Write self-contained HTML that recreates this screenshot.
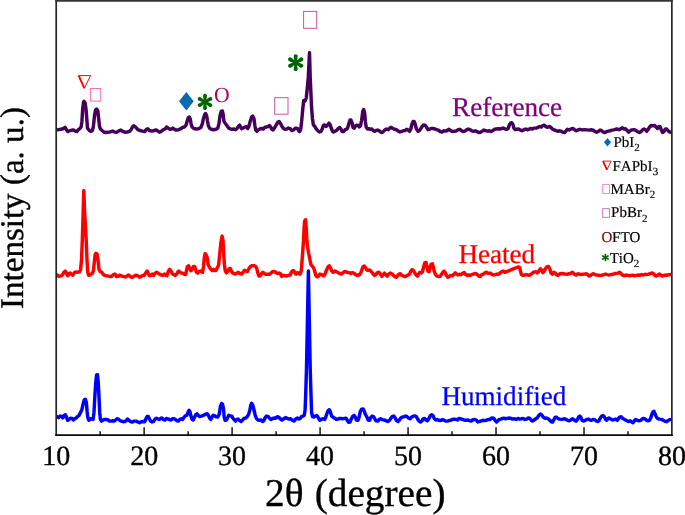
<!DOCTYPE html>
<html><head><meta charset="utf-8"><title>XRD</title>
<style>
html,body{margin:0;padding:0;background:#fff;}
body{width:685px;height:515px;overflow:hidden;font-family:"Liberation Serif",serif;}
svg{display:block;font-family:"Liberation Serif",serif;will-change:transform;}
text{text-rendering:geometricPrecision;font-kerning:none;}
</style></head><body>
<svg width="685" height="515" viewBox="0 0 685 515">
<rect width="685" height="515" fill="#fff"/>
<g clip-path="url(#cp)">
<path d="M56.0,130.1 L57.2,129.9 L60.7,129.3 L63.2,128.7 L65.1,127.3 L66.5,129.9 L67.7,131.6 L69.4,130.8 L71.8,130.2 L73.5,129.9 L75.3,131.1 L76.8,131.6 L78.2,129.9 L79.9,128.5 L81.1,127.0 L81.9,121.7 L82.6,110.0 L83.5,102.5 L84.0,101.3 L85.2,103.0 L86.1,110.0 L87.0,121.7 L87.5,128.1 L89.3,130.5 L91.0,131.4 L92.4,130.5 L93.4,126.4 L94.5,115.9 L95.5,110.0 L96.6,109.1 L97.8,110.6 L98.6,118.2 L99.5,126.4 L100.4,129.0 L102.1,130.5 L103.9,132.0 L105.6,132.5 L108.0,132.2 L110.3,131.9 L112.6,131.1 L114.4,132.0 L116.7,132.2 L119.1,130.8 L120.8,130.1 L122.6,131.3 L124.9,132.2 L127.2,132.0 L129.6,131.3 L131.3,129.3 L132.5,127.0 L133.7,125.8 L134.8,126.4 L136.0,127.5 L137.8,129.7 L140.1,130.5 L142.4,131.1 L144.8,131.6 L146.5,129.3 L147.7,128.7 L149.4,130.5 L151.8,131.1 L153.5,130.8 L155.8,129.9 L157.6,130.8 L159.4,132.2 L161.1,131.6 L162.9,129.9 L165.2,129.0 L166.6,127.0 L167.8,127.8 L169.3,129.0 L171.0,129.3 L172.8,128.1 L174.5,129.3 L176.3,130.1 L178.6,129.7 L181.0,128.7 L182.7,127.3 L184.5,127.0 L186.0,125.2 L187.2,121.1 L188.3,117.6 L189.5,117.0 L190.3,119.4 L191.1,124.0 L192.1,127.0 L193.8,128.5 L196.2,129.0 L198.5,128.7 L200.8,127.5 L202.3,124.0 L203.5,118.2 L204.7,114.5 L205.6,113.5 L206.7,115.9 L207.5,121.1 L208.4,125.8 L209.6,128.1 L211.3,129.3 L213.7,129.7 L216.0,129.3 L217.8,128.1 L218.9,124.0 L220.1,115.3 L221.3,111.2 L222.4,111.0 L223.2,114.7 L223.9,121.1 L225.3,123.5 L227.1,125.8 L228.8,128.1 L230.6,129.0 L232.3,129.3 L234.1,129.0 L235.6,129.7 L237.0,128.5 L238.4,126.4 L239.6,125.0 L240.5,127.0 L241.7,128.7 L243.4,127.8 L245.2,127.0 L246.6,126.6 L247.8,128.5 L248.9,126.4 L250.1,121.7 L251.6,117.0 L252.8,116.1 L254.0,118.8 L254.8,125.2 L255.7,129.9 L256.9,131.3 L258.3,129.7 L259.8,129.0 L261.6,128.5 L263.3,129.0 L264.8,127.3 L266.4,127.0 L268.0,126.6 L269.5,125.5 L270.7,127.0 L271.8,129.3 L273.0,129.9 L274.4,128.1 L276.1,125.2 L277.7,122.3 L279.1,121.5 L280.5,123.5 L282.0,126.4 L283.5,128.5 L285.1,129.3 L286.7,129.0 L288.4,128.1 L290.2,128.7 L291.9,130.5 L293.7,129.9 L295.4,128.1 L296.0,128.1 L297.4,128.5 L298.6,130.8 L299.7,131.6 L300.7,129.3 L301.6,121.7 L302.8,108.9 L303.7,100.5 L305.1,100.9 L306.3,97.8 L307.2,89.0 L308.3,77.3 L309.5,52.6 L310.2,77.3 L310.9,92.5 L311.5,106.5 L312.4,118.2 L313.3,124.6 L314.7,126.4 L316.1,128.7 L317.6,130.5 L319.4,132.0 L321.1,131.3 L322.3,128.7 L323.4,125.2 L324.6,125.0 L326.1,126.4 L327.5,125.2 L328.9,123.1 L330.1,124.6 L331.3,128.1 L332.4,131.1 L333.6,132.0 L335.1,131.3 L336.9,130.1 L338.3,128.5 L339.8,127.5 L341.0,129.0 L342.1,131.6 L343.6,131.6 L345.1,129.7 L346.4,129.3 L347.6,128.1 L348.8,124.0 L350.0,120.0 L350.9,120.0 L352.1,122.9 L353.0,127.5 L354.2,128.1 L355.3,126.2 L356.7,125.2 L358.1,125.5 L359.3,127.0 L360.5,125.8 L361.6,120.5 L362.8,111.2 L363.7,109.5 L364.7,113.5 L365.4,121.7 L366.3,127.5 L367.5,129.0 L369.0,128.7 L370.5,129.3 L371.9,129.0 L373.3,130.8 L374.8,131.3 L376.0,130.5 L377.8,130.1 L379.5,131.1 L381.3,132.5 L383.0,132.0 L384.8,129.9 L386.5,129.0 L388.3,129.7 L389.8,128.1 L391.2,127.3 L392.9,128.5 L394.7,129.3 L396.4,129.7 L398.2,131.1 L399.9,132.0 L401.7,131.3 L403.4,130.8 L405.2,130.5 L406.6,129.3 L408.1,129.9 L409.6,131.3 L410.8,129.0 L412.0,124.0 L413.1,121.5 L414.1,121.5 L415.1,124.0 L416.3,128.5 L417.8,131.3 L419.2,130.8 L420.6,129.0 L422.1,126.4 L423.6,125.0 L425.1,125.2 L426.4,127.0 L428.0,129.7 L429.5,129.3 L431.1,128.5 L433.0,128.5 L435.0,129.0 L436.7,129.7 L438.5,130.1 L440.2,131.6 L442.0,132.0 L443.7,130.8 L445.5,131.1 L447.2,130.5 L449.0,129.3 L450.7,130.5 L452.5,131.6 L454.2,131.3 L456.0,131.1 L457.8,129.9 L459.5,129.3 L461.3,130.5 L463.0,131.6 L464.8,131.1 L466.5,129.9 L468.3,129.0 L470.0,129.7 L471.8,130.8 L473.5,131.3 L475.3,130.8 L477.0,131.6 L478.8,132.5 L480.5,132.2 L482.3,131.1 L484.0,130.1 L485.8,130.8 L487.5,131.1 L489.3,130.8 L491.0,131.6 L492.8,130.5 L494.5,129.3 L496.3,129.0 L498.0,128.7 L499.8,129.0 L501.6,128.5 L503.3,128.1 L505.1,129.0 L506.8,129.3 L508.3,128.1 L509.5,124.6 L510.7,122.9 L511.8,122.7 L513.0,124.6 L513.9,128.1 L515.3,129.7 L516.7,129.3 L518.5,129.0 L520.2,129.9 L522.0,130.8 L523.7,129.9 L525.5,129.0 L527.2,129.7 L529.0,129.3 L530.7,128.5 L532.5,129.0 L534.2,128.1 L536.0,128.1 L537.8,127.5 L539.5,126.6 L541.3,127.0 L542.4,125.8 L544.2,125.2 L545.9,126.6 L547.7,127.3 L549.4,126.4 L551.0,127.5 L552.4,129.0 L554.1,129.9 L555.9,130.5 L557.6,131.3 L559.4,130.8 L561.1,131.1 L562.9,132.2 L564.6,132.5 L566.1,130.8 L567.5,129.3 L569.3,129.9 L571.0,129.0 L573.1,128.5 L574.8,129.9 L576.3,130.8 L578.0,129.9 L579.8,129.3 L582.1,129.9 L584.5,129.7 L586.8,129.9 L589.1,130.1 L591.5,129.7 L593.2,130.1 L595.0,131.6 L596.7,132.2 L598.5,131.3 L600.0,130.1 L601.4,130.5 L603.1,132.0 L604.9,132.5 L606.7,131.6 L608.4,131.1 L610.2,130.8 L611.9,130.1 L613.7,129.9 L615.4,129.4 L616.7,129.0 L619.0,129.7 L620.8,128.7 L622.3,127.8 L623.7,129.0 L625.4,128.7 L627.2,130.5 L628.6,132.2 L630.1,130.8 L631.9,129.9 L634.0,129.7 L635.6,130.1 L637.5,131.6 L639.5,132.5 L641.2,131.6 L642.6,129.7 L644.1,129.0 L645.6,129.9 L646.8,131.3 L648.2,129.3 L649.6,127.0 L651.1,125.5 L652.9,125.8 L654.6,125.5 L656.1,127.0 L657.5,128.5 L659.0,126.4 L660.1,126.6 L661.3,129.9 L662.5,132.5 L664.0,131.6 L665.1,129.3 L666.7,129.0 L668.1,130.8 L669.8,132.0 L671.8,132.2" fill="none" stroke="#46005a" stroke-width="3.45" stroke-linejoin="round" stroke-linecap="round"/>
<path d="M56.0,275.2 L57.4,275.0 L58.9,276.4 L60.7,276.1 L62.4,275.0 L63.9,272.3 L65.3,271.1 L66.5,273.5 L67.7,275.8 L69.1,273.5 L70.2,272.9 L71.8,274.6 L72.9,275.2 L74.5,272.6 L75.8,271.9 L77.6,272.3 L79.4,271.9 L80.5,270.0 L81.5,260.0 L82.3,240.2 L83.8,190.6 L84.7,213.3 L86.2,240.2 L87.0,260.0 L87.7,271.7 L88.5,275.2 L89.6,275.2 L91.0,274.1 L92.4,273.5 L93.4,270.6 L94.3,262.4 L95.1,254.8 L95.9,253.3 L97.1,254.2 L98.0,260.0 L99.0,269.4 L100.2,271.7 L101.5,271.9 L103.0,274.1 L104.5,275.4 L106.2,275.8 L108.0,276.1 L109.7,276.4 L111.5,276.4 L113.0,275.0 L114.4,274.1 L115.6,274.6 L116.7,276.6 L118.1,276.4 L119.7,275.2 L121.2,275.8 L122.6,276.4 L124.3,276.6 L125.8,277.0 L127.2,275.8 L128.6,275.0 L130.2,276.4 L131.7,277.3 L133.1,277.0 L134.5,275.8 L136.0,275.2 L137.8,275.8 L139.5,277.3 L141.3,276.4 L142.8,275.4 L144.2,275.2 L145.6,273.1 L147.1,271.1 L148.3,273.5 L149.4,275.8 L150.9,275.4 L152.3,274.1 L153.5,275.4 L154.9,273.5 L156.4,272.3 L158.0,273.1 L159.4,274.1 L161.1,275.0 L162.9,275.4 L164.3,274.1 L165.8,275.2 L166.9,275.8 L168.1,271.7 L169.6,269.4 L171.0,271.1 L172.2,273.5 L173.6,274.6 L175.1,275.4 L176.6,274.1 L178.0,271.7 L179.0,271.1 L180.4,272.6 L182.1,273.1 L183.9,274.1 L185.6,274.6 L186.4,271.1 L187.4,266.5 L188.6,265.9 L189.7,268.2 L190.9,270.8 L192.1,269.4 L193.2,266.8 L194.6,266.5 L195.6,269.4 L196.5,272.3 L197.7,273.1 L199.1,271.5 L200.5,271.1 L201.6,271.7 L202.6,272.3 L203.5,267.0 L204.3,257.7 L205.1,253.6 L206.1,254.8 L207.2,257.7 L208.2,264.7 L209.3,267.0 L210.7,269.1 L212.2,270.6 L213.7,269.4 L214.8,270.6 L216.0,270.6 L217.4,267.6 L218.6,265.3 L219.7,254.2 L220.9,242.5 L222.1,236.1 L223.0,240.2 L223.7,254.2 L224.4,264.7 L225.3,271.1 L226.5,272.9 L227.9,271.1 L229.1,268.8 L230.2,268.4 L231.4,271.1 L232.9,273.1 L234.7,274.1 L236.4,273.5 L238.2,272.3 L239.9,273.5 L241.7,274.1 L243.1,272.3 L244.6,270.3 L246.1,271.1 L247.5,271.5 L248.9,268.8 L250.4,266.5 L252.2,265.6 L254.0,265.6 L255.7,266.5 L256.9,268.8 L257.8,272.9 L259.0,276.1 L260.4,275.8 L261.6,273.5 L262.9,272.3 L264.5,273.8 L266.2,274.3 L268.0,274.1 L269.7,274.3 L271.1,272.9 L272.6,271.7 L274.4,271.5 L275.8,272.3 L277.3,273.5 L279.1,273.1 L280.5,273.8 L281.6,276.4 L283.1,275.2 L284.9,275.8 L286.7,276.1 L288.4,275.2 L290.2,275.0 L291.3,272.3 L292.9,270.6 L294.0,271.1 L295.2,273.5 L296.0,274.1 L297.4,272.6 L298.9,273.5 L300.1,274.1 L301.3,270.6 L302.1,260.0 L303.4,242.5 L304.1,227.3 L304.6,221.3 L305.6,219.8 L306.3,229.0 L306.9,241.0 L307.6,247.0 L308.6,253.0 L309.8,258.9 L310.9,264.7 L312.4,266.5 L313.5,267.6 L314.7,271.1 L315.9,275.8 L317.3,277.0 L318.8,275.8 L319.9,274.1 L321.5,274.6 L322.9,275.4 L324.0,275.8 L325.2,273.5 L326.6,270.0 L328.1,266.8 L329.3,265.9 L330.4,267.6 L331.6,270.6 L333.1,272.3 L334.8,271.1 L336.3,271.7 L338.0,272.6 L339.8,273.5 L341.6,274.1 L342.9,272.9 L344.5,271.5 L346.0,271.7 L347.4,272.6 L349.1,272.6 L350.7,273.5 L352.1,272.6 L353.8,273.1 L355.6,274.6 L357.3,275.4 L359.1,275.0 L360.5,273.5 L361.6,270.6 L362.8,267.0 L364.3,266.1 L365.5,267.6 L366.7,270.0 L368.2,270.3 L369.6,270.0 L371.3,271.7 L372.9,273.5 L374.2,275.4 L376.0,274.6 L377.4,272.6 L378.9,272.3 L380.4,274.1 L381.8,276.4 L383.2,274.6 L384.4,273.1 L385.9,274.6 L387.1,276.1 L388.6,274.1 L390.2,273.1 L391.8,273.8 L393.3,275.2 L394.7,276.6 L396.1,277.3 L397.6,275.8 L398.8,274.1 L400.3,273.8 L401.7,275.2 L403.4,276.1 L405.2,276.6 L406.6,275.8 L408.1,275.0 L409.6,274.1 L410.8,271.1 L412.2,269.6 L413.4,270.6 L414.8,272.9 L416.3,275.2 L417.5,276.1 L418.6,274.1 L419.8,272.3 L421.3,272.9 L422.5,271.7 L423.6,267.0 L424.8,262.6 L426.0,262.4 L426.9,265.9 L427.9,271.1 L429.1,271.7 L430.0,268.2 L431.1,264.1 L432.3,263.8 L433.2,266.5 L434.2,271.1 L435.3,274.1 L436.7,275.8 L438.5,276.6 L440.0,276.4 L441.4,274.6 L442.8,272.3 L444.0,271.1 L445.1,272.3 L446.3,275.2 L447.8,277.3 L449.3,276.4 L450.7,275.4 L452.5,275.8 L454.0,274.1 L455.2,272.9 L456.0,273.5 L457.8,275.0 L459.5,274.3 L461.3,274.6 L462.8,273.1 L464.2,272.6 L465.6,274.6 L467.1,275.4 L468.9,275.0 L470.6,275.2 L472.4,274.3 L474.1,273.8 L475.9,273.5 L477.3,274.6 L478.8,276.1 L480.3,276.6 L481.7,274.6 L483.4,274.1 L485.2,272.6 L486.6,272.3 L488.1,273.5 L489.9,273.1 L491.6,274.1 L493.4,275.0 L495.1,274.6 L496.9,274.1 L498.6,274.3 L500.1,272.9 L501.8,271.7 L503.3,271.1 L504.8,272.3 L506.4,271.7 L508.0,271.1 L509.7,270.3 L511.5,269.6 L513.2,268.8 L515.0,268.2 L516.7,267.6 L518.5,267.0 L519.6,267.3 L520.5,271.1 L521.4,274.6 L522.8,275.4 L524.7,275.0 L526.3,274.6 L528.2,275.2 L529.8,275.0 L531.7,273.8 L533.1,272.6 L534.5,271.9 L536.0,271.7 L537.4,272.9 L538.9,271.1 L540.4,268.8 L541.6,270.0 L542.8,272.6 L544.2,271.1 L545.6,268.4 L547.1,266.8 L548.6,266.5 L549.8,268.8 L551.0,272.9 L552.4,274.1 L553.8,272.3 L555.3,273.1 L556.8,275.0 L558.2,275.2 L559.9,273.8 L561.7,273.5 L563.5,273.8 L565.2,274.1 L567.0,274.3 L568.7,273.8 L570.5,273.5 L572.0,272.3 L573.4,273.1 L574.8,274.6 L576.3,275.0 L577.8,273.8 L579.5,274.1 L581.0,274.6 L582.7,274.3 L584.5,274.1 L586.2,273.8 L587.6,274.6 L589.1,276.1 L590.7,275.4 L592.1,274.1 L593.5,273.8 L595.0,274.6 L596.7,275.0 L598.5,275.2 L600.2,275.4 L602.0,275.2 L603.7,274.6 L605.5,274.1 L607.2,274.6 L609.0,275.0 L610.7,274.6 L612.5,274.3 L614.2,273.8 L615.6,273.5 L617.9,273.1 L619.6,272.3 L621.1,273.5 L622.5,275.2 L624.3,275.8 L626.0,275.0 L627.8,275.4 L629.5,275.8 L631.3,275.4 L633.0,275.2 L634.8,275.8 L636.5,275.4 L638.3,275.0 L640.0,275.2 L641.8,274.6 L643.5,275.0 L645.3,274.3 L647.0,274.6 L648.8,274.1 L650.5,273.5 L652.0,272.9 L653.5,273.8 L655.0,275.4 L656.4,276.1 L657.8,275.2 L659.3,274.1 L660.8,275.0 L662.2,276.1 L664.0,275.4 L665.7,275.0 L667.5,275.2 L669.2,274.6 L671.8,274.3" fill="none" stroke="#ff0000" stroke-width="3.45" stroke-linejoin="round" stroke-linecap="round"/>
<path d="M56.0,417.1 L57.4,416.8 L58.6,417.6 L60.1,416.1 L61.6,416.5 L62.8,418.0 L63.9,415.6 L65.3,414.7 L66.5,417.1 L67.7,420.3 L69.1,419.4 L70.6,418.2 L72.1,418.4 L73.3,420.0 L74.7,418.8 L76.1,418.0 L77.6,416.5 L79.1,415.3 L80.5,412.4 L81.9,409.5 L83.1,404.2 L84.3,399.8 L85.4,399.3 L86.4,403.0 L87.1,411.2 L87.8,417.6 L88.9,420.3 L90.5,418.8 L92.0,419.1 L93.1,419.4 L94.0,412.4 L94.8,397.2 L95.7,383.2 L96.6,375.0 L97.5,374.8 L98.3,383.2 L99.0,397.2 L99.7,412.4 L100.4,419.4 L101.5,421.1 L103.0,420.0 L104.5,419.4 L106.2,419.4 L108.0,420.0 L109.5,421.1 L111.1,421.1 L112.6,420.8 L114.2,421.1 L115.6,420.0 L117.0,418.8 L118.5,419.1 L120.0,420.6 L121.4,421.1 L123.2,421.7 L124.9,421.5 L126.3,420.6 L127.5,419.1 L129.0,420.3 L130.7,421.7 L132.5,422.0 L134.2,421.1 L136.0,421.1 L137.8,422.0 L139.5,422.7 L141.3,421.7 L143.0,421.5 L144.8,421.7 L145.9,418.8 L147.1,416.5 L148.3,416.5 L149.4,418.8 L150.6,421.1 L152.1,422.0 L153.5,421.5 L154.9,419.4 L156.4,418.2 L158.0,419.1 L159.4,419.4 L160.8,418.2 L161.9,418.0 L163.4,419.6 L165.0,420.0 L166.4,418.4 L167.8,418.8 L169.3,419.6 L170.8,420.0 L172.4,418.8 L174.0,418.8 L175.5,419.6 L176.9,420.8 L178.3,421.1 L179.8,419.4 L181.3,418.8 L182.7,419.4 L184.1,417.1 L185.6,415.6 L186.8,415.3 L188.0,412.4 L189.1,410.3 L190.0,411.8 L190.9,415.9 L192.1,419.4 L193.2,420.0 L194.4,417.6 L195.8,414.7 L197.0,413.8 L198.1,415.3 L199.7,416.5 L201.2,416.1 L202.8,415.6 L204.3,414.9 L205.8,414.1 L207.2,413.8 L208.4,415.3 L209.6,418.2 L210.7,419.4 L211.9,417.1 L213.3,415.3 L214.5,415.6 L216.0,416.8 L217.8,417.1 L219.3,414.1 L220.4,406.5 L221.6,403.6 L222.5,404.0 L223.5,408.9 L224.2,417.1 L225.1,420.3 L226.5,420.0 L227.7,417.6 L228.8,415.3 L230.2,415.9 L231.8,416.1 L232.9,418.2 L234.4,420.0 L235.6,421.1 L236.8,419.4 L238.2,419.1 L239.6,420.6 L241.1,421.5 L242.6,420.0 L244.0,418.4 L245.8,418.0 L247.3,416.5 L248.7,414.1 L249.9,410.0 L250.8,405.1 L251.6,403.3 L252.8,405.1 L254.0,410.0 L255.1,414.7 L256.3,418.2 L257.8,420.0 L259.2,420.3 L261.0,420.0 L262.5,421.5 L263.9,420.6 L265.1,417.6 L266.4,416.1 L268.0,416.5 L269.5,418.2 L270.9,419.4 L272.6,418.4 L274.4,418.0 L275.8,418.2 L277.3,416.8 L278.8,417.1 L280.2,418.8 L282.0,420.0 L283.7,418.8 L285.5,417.6 L287.2,418.4 L289.0,419.1 L290.7,418.8 L292.5,420.3 L294.0,421.1 L295.4,419.4 L296.0,418.8 L297.4,418.0 L298.9,419.1 L300.4,418.2 L301.6,416.5 L303.0,416.1 L304.2,415.3 L305.1,410.0 L305.8,391.4 L306.5,368.0 L308.4,271.0 L310.2,368.0 L310.9,391.4 L311.6,412.4 L312.4,416.5 L313.8,417.1 L315.3,415.9 L316.8,415.6 L318.2,417.6 L319.9,420.3 L321.5,419.1 L323.1,418.8 L324.6,419.4 L325.8,417.1 L326.9,413.6 L328.1,410.6 L329.3,409.8 L330.4,412.1 L331.6,415.9 L333.1,417.3 L334.8,418.2 L336.3,419.4 L337.8,419.1 L339.4,418.4 L341.3,418.4 L342.9,418.8 L344.5,418.4 L346.0,418.2 L347.1,420.0 L348.6,422.3 L350.0,422.0 L351.1,419.4 L352.6,416.5 L354.2,415.3 L355.3,417.1 L356.5,420.0 L357.9,420.3 L359.1,417.1 L360.2,411.8 L361.6,409.1 L363.1,408.9 L364.3,411.2 L365.5,414.7 L367.0,417.1 L368.2,420.0 L369.6,420.3 L370.7,417.6 L372.1,416.1 L373.7,416.8 L375.2,419.4 L376.0,420.8 L377.8,421.1 L379.3,419.4 L380.7,418.8 L382.4,419.6 L384.2,420.0 L385.9,420.6 L387.7,421.5 L389.4,420.6 L390.9,418.2 L392.4,416.5 L393.8,416.1 L394.9,417.6 L396.4,420.6 L398.0,421.5 L399.4,420.0 L400.8,418.0 L402.3,417.1 L404.0,416.8 L405.4,416.1 L406.9,416.5 L408.5,418.0 L410.1,418.8 L411.6,417.1 L413.1,416.1 L414.8,415.9 L416.3,416.5 L417.5,418.8 L419.0,421.1 L420.4,422.0 L421.8,421.1 L422.9,419.1 L424.5,418.4 L426.0,420.0 L427.4,420.8 L428.8,418.8 L430.3,415.9 L431.8,414.7 L433.2,415.9 L434.4,418.8 L435.8,420.0 L437.3,419.6 L439.1,420.3 L440.8,420.6 L442.3,419.6 L443.7,420.0 L445.5,421.1 L447.2,421.1 L449.0,420.6 L450.7,420.3 L452.5,419.4 L454.2,419.1 L456.0,419.4 L457.4,420.0 L458.9,418.4 L460.7,418.8 L462.4,419.4 L464.2,420.0 L465.9,420.3 L467.7,420.0 L469.4,420.6 L471.2,421.1 L472.9,419.6 L474.7,419.4 L476.4,420.3 L478.0,422.0 L479.4,421.5 L481.1,420.8 L482.9,420.3 L484.6,420.6 L486.4,420.3 L488.1,419.4 L489.9,419.6 L491.0,418.4 L492.4,418.0 L494.0,418.4 L495.1,420.6 L496.6,422.0 L498.0,420.6 L499.4,419.4 L501.0,419.1 L502.5,418.4 L503.9,418.2 L505.6,418.8 L507.4,418.4 L509.1,418.0 L510.9,418.4 L512.6,419.1 L514.4,418.8 L516.1,419.4 L517.9,418.4 L519.6,419.1 L521.4,418.8 L523.1,418.4 L524.9,419.4 L526.7,419.1 L528.2,418.0 L529.6,418.2 L531.0,420.0 L532.5,421.1 L534.0,420.0 L536.0,418.8 L537.4,417.6 L538.9,415.3 L540.4,414.1 L541.8,414.9 L543.2,417.1 L544.8,418.2 L546.5,418.0 L548.3,418.8 L549.8,420.3 L551.2,421.7 L552.6,422.0 L553.8,420.0 L554.9,417.6 L556.1,417.1 L557.6,418.2 L559.4,419.1 L561.1,419.4 L562.9,419.1 L564.6,418.8 L566.1,419.4 L567.5,420.3 L569.3,420.8 L570.8,420.0 L572.2,418.8 L573.6,419.4 L575.1,420.8 L576.3,421.1 L577.5,419.4 L578.6,417.1 L579.8,416.1 L581.0,417.6 L582.1,420.3 L583.6,421.1 L585.3,420.3 L586.8,419.4 L588.3,419.1 L590.0,420.0 L591.5,420.3 L593.2,419.4 L594.6,419.6 L596.1,420.8 L597.7,421.5 L599.1,420.6 L600.2,418.2 L601.6,416.1 L603.1,415.6 L604.3,416.8 L605.5,419.4 L606.7,420.3 L607.8,418.8 L609.0,418.0 L610.2,418.8 L611.7,419.6 L613.1,420.0 L614.5,419.4 L615.8,419.1 L617.3,420.3 L618.4,418.8 L619.6,417.1 L621.1,416.8 L622.5,418.2 L623.9,419.1 L625.4,420.0 L627.0,420.8 L628.4,421.5 L630.1,420.8 L631.6,422.0 L633.0,422.7 L634.4,420.6 L635.6,419.4 L637.1,420.3 L638.9,420.8 L640.6,420.3 L642.1,419.1 L643.5,418.4 L644.9,418.8 L646.5,420.3 L648.0,420.8 L649.6,420.3 L650.8,417.6 L652.0,414.1 L653.1,411.8 L654.0,411.4 L655.0,413.6 L656.1,416.5 L657.5,418.4 L659.3,419.1 L661.1,419.4 L662.8,420.0 L664.6,421.1 L666.3,421.7 L668.1,420.6 L669.8,419.6 L671.8,419.4" fill="none" stroke="#0000ff" stroke-width="3.45" stroke-linejoin="round" stroke-linecap="round"/>
</g>
<clipPath id="cp"><rect x="56.15" y="0" width="615.85" height="435.15"/></clipPath>
<g stroke="#262626" stroke-width="1.7" fill="none">
<line x1="56.199999999999996" y1="0" x2="56.199999999999996" y2="435.95"/>
<line x1="671.85" y1="0" x2="671.85" y2="435.95"/>
<line x1="55.35" y1="435.15" x2="672.7" y2="435.15" stroke="#0a0a0a" stroke-width="1.65"/>
<line x1="55.35" y1="0.4" x2="672.7" y2="0.4" stroke-width="2.7" stroke="#333"/>
<g stroke-width="1.45" stroke="#0a0a0a"><line x1="100.14" y1="435.15" x2="100.14" y2="431.20"/><line x1="144.13" y1="435.15" x2="144.13" y2="427.30"/><line x1="188.12" y1="435.15" x2="188.12" y2="431.20"/><line x1="232.11" y1="435.15" x2="232.11" y2="427.30"/><line x1="276.10" y1="435.15" x2="276.10" y2="431.20"/><line x1="320.09" y1="435.15" x2="320.09" y2="427.30"/><line x1="364.07" y1="435.15" x2="364.07" y2="431.20"/><line x1="408.06" y1="435.15" x2="408.06" y2="427.30"/><line x1="452.05" y1="435.15" x2="452.05" y2="431.20"/><line x1="496.04" y1="435.15" x2="496.04" y2="427.30"/><line x1="540.03" y1="435.15" x2="540.03" y2="431.20"/><line x1="584.02" y1="435.15" x2="584.02" y2="427.30"/><line x1="628.01" y1="435.15" x2="628.01" y2="431.20"/></g>
</g>
<g fill="#000" stroke="#000" stroke-width="0.35">
<text x="56.15" y="465.2" text-anchor="middle" font-size="28">10</text><text x="144.13" y="465.2" text-anchor="middle" font-size="28">20</text><text x="232.11" y="465.2" text-anchor="middle" font-size="28">30</text><text x="320.09" y="465.2" text-anchor="middle" font-size="28">40</text><text x="408.06" y="465.2" text-anchor="middle" font-size="28">50</text><text x="496.04" y="465.2" text-anchor="middle" font-size="28">60</text><text x="584.02" y="465.2" text-anchor="middle" font-size="28">70</text><text x="672.00" y="465.2" text-anchor="middle" font-size="28">80</text>
<text x="265" y="506.3" font-size="39.3" id="xl">2θ <tspan dx="1.4">(degree)</tspan></text>
<text transform="translate(23.3,309.0) rotate(-90)" font-size="33.05" id="yl">Intensity (a. u.)</text>
</g>
<text x="452.0" y="115.8" font-size="27.2" fill="#800080" stroke="#800080" stroke-width="0.25" id="t1">Reference</text>
<text x="458.4" y="262.9" font-size="27.1" fill="#ff0000" stroke="#ff0000" stroke-width="0.25" id="t2">Heated</text>
<text x="441.5" y="405.3" font-size="27.05" fill="#0000ff" stroke="#0000ff" stroke-width="0.25" id="t3">Humidified</text>

<!-- markers in plot -->
<g id="mk">
<path d="M78.6,75.6 L90.6,75.6 L84.3,88.3 Z" fill="none" stroke="#ff0000" stroke-width="1"/>
<path d="M78.7,75.6 L84.3,88.1" fill="none" stroke="#ff0000" stroke-width="1.9"/>
<rect x="90.4" y="88.5" width="10.3" height="12.6" fill="none" stroke="#ff69b4" stroke-width="1"/>
<path d="M186.35,91.9 L193.75,101.2 L186.35,110.4 L178.95,101.2 Z" fill="#0b6aae"/>
<g transform="translate(205.0,102.0) scale(1.0127)" fill="#006400"><path transform="rotate(0)" d="M-1.05,0 L-1.85,-5.5 A1.95,1.95 0 1 1 1.85,-5.5 L1.05,0Z"/><path transform="rotate(60)" d="M-1.05,0 L-1.85,-5.5 A1.95,1.95 0 1 1 1.85,-5.5 L1.05,0Z"/><path transform="rotate(120)" d="M-1.05,0 L-1.85,-5.5 A1.95,1.95 0 1 1 1.85,-5.5 L1.05,0Z"/><path transform="rotate(180)" d="M-1.05,0 L-1.85,-5.5 A1.95,1.95 0 1 1 1.85,-5.5 L1.05,0Z"/><path transform="rotate(240)" d="M-1.05,0 L-1.85,-5.5 A1.95,1.95 0 1 1 1.85,-5.5 L1.05,0Z"/><path transform="rotate(300)" d="M-1.05,0 L-1.85,-5.5 A1.95,1.95 0 1 1 1.85,-5.5 L1.05,0Z"/><circle r="2.3"/></g>
<text x="221.8" y="102.2" font-size="21.7" text-anchor="middle" fill="#b0005f">O</text>
<rect x="274.7" y="97.7" width="13.3" height="16.5" fill="none" stroke="#c7559d" stroke-width="1"/>
<g transform="translate(295.7,62.6) scale(1.0506)" fill="#006400"><path transform="rotate(0)" d="M-1.05,0 L-1.85,-5.5 A1.95,1.95 0 1 1 1.85,-5.5 L1.05,0Z"/><path transform="rotate(60)" d="M-1.05,0 L-1.85,-5.5 A1.95,1.95 0 1 1 1.85,-5.5 L1.05,0Z"/><path transform="rotate(120)" d="M-1.05,0 L-1.85,-5.5 A1.95,1.95 0 1 1 1.85,-5.5 L1.05,0Z"/><path transform="rotate(180)" d="M-1.05,0 L-1.85,-5.5 A1.95,1.95 0 1 1 1.85,-5.5 L1.05,0Z"/><path transform="rotate(240)" d="M-1.05,0 L-1.85,-5.5 A1.95,1.95 0 1 1 1.85,-5.5 L1.05,0Z"/><path transform="rotate(300)" d="M-1.05,0 L-1.85,-5.5 A1.95,1.95 0 1 1 1.85,-5.5 L1.05,0Z"/><circle r="2.3"/></g>
<rect x="303.6" y="11.4" width="13.1" height="16.9" fill="none" stroke="#c7559d" stroke-width="1"/>
</g>

<!-- legend -->
<g font-size="15" fill="#000" stroke="#000" stroke-width="0.18" id="lg">
<path d="M607.5,137.9 L611.1,142.2 L607.5,146.6 L604,142.2 Z" fill="#0b6aae" stroke="none"/>
<text x="613.5" y="146.7">PbI<tspan font-size="11" dy="4.4">2</tspan></text>
<path d="M603,161.1 L611.1,161.1 L607,169.8 Z" fill="none" stroke="#ff0000" stroke-width="0.9"/>
<path d="M603,161.1 L607,169.8" fill="none" stroke="#ff0000" stroke-width="1.7"/>
<text x="612.5" y="170.5">FAPbI<tspan font-size="11" dy="4.6" dx="0.3">3</tspan></text>
<rect x="602.7" y="184.6" width="6.8" height="8.8" fill="none" stroke="#ff69b4" stroke-width="0.8"/>
<text x="610.5" y="193.6">MABr<tspan font-size="11" dy="4.4">2</tspan></text>
<rect x="602.7" y="208.7" width="6.8" height="8.6" fill="none" stroke="#c7559d" stroke-width="0.8"/>
<text x="611.1" y="217.4">PbBr<tspan font-size="11" dy="4.6">2</tspan></text>
<text x="601.6" y="241.8" fill="#8b0000" stroke="#8b0000">O</text>
<text x="612.1" y="241.8">FTO</text>
<g stroke='none'><g transform="translate(605.4,257.5) scale(0.4684)" fill="#006400"><path transform="rotate(0)" d="M-1.05,0 L-1.85,-5.5 A1.95,1.95 0 1 1 1.85,-5.5 L1.05,0Z"/><path transform="rotate(60)" d="M-1.05,0 L-1.85,-5.5 A1.95,1.95 0 1 1 1.85,-5.5 L1.05,0Z"/><path transform="rotate(120)" d="M-1.05,0 L-1.85,-5.5 A1.95,1.95 0 1 1 1.85,-5.5 L1.05,0Z"/><path transform="rotate(180)" d="M-1.05,0 L-1.85,-5.5 A1.95,1.95 0 1 1 1.85,-5.5 L1.05,0Z"/><path transform="rotate(240)" d="M-1.05,0 L-1.85,-5.5 A1.95,1.95 0 1 1 1.85,-5.5 L1.05,0Z"/><path transform="rotate(300)" d="M-1.05,0 L-1.85,-5.5 A1.95,1.95 0 1 1 1.85,-5.5 L1.05,0Z"/><circle r="2.3"/></g></g>
<text x="609.7" y="262.6">TiO<tspan font-size="11" dy="4.0">2</tspan></text>
</g>
</svg>
</body></html>
